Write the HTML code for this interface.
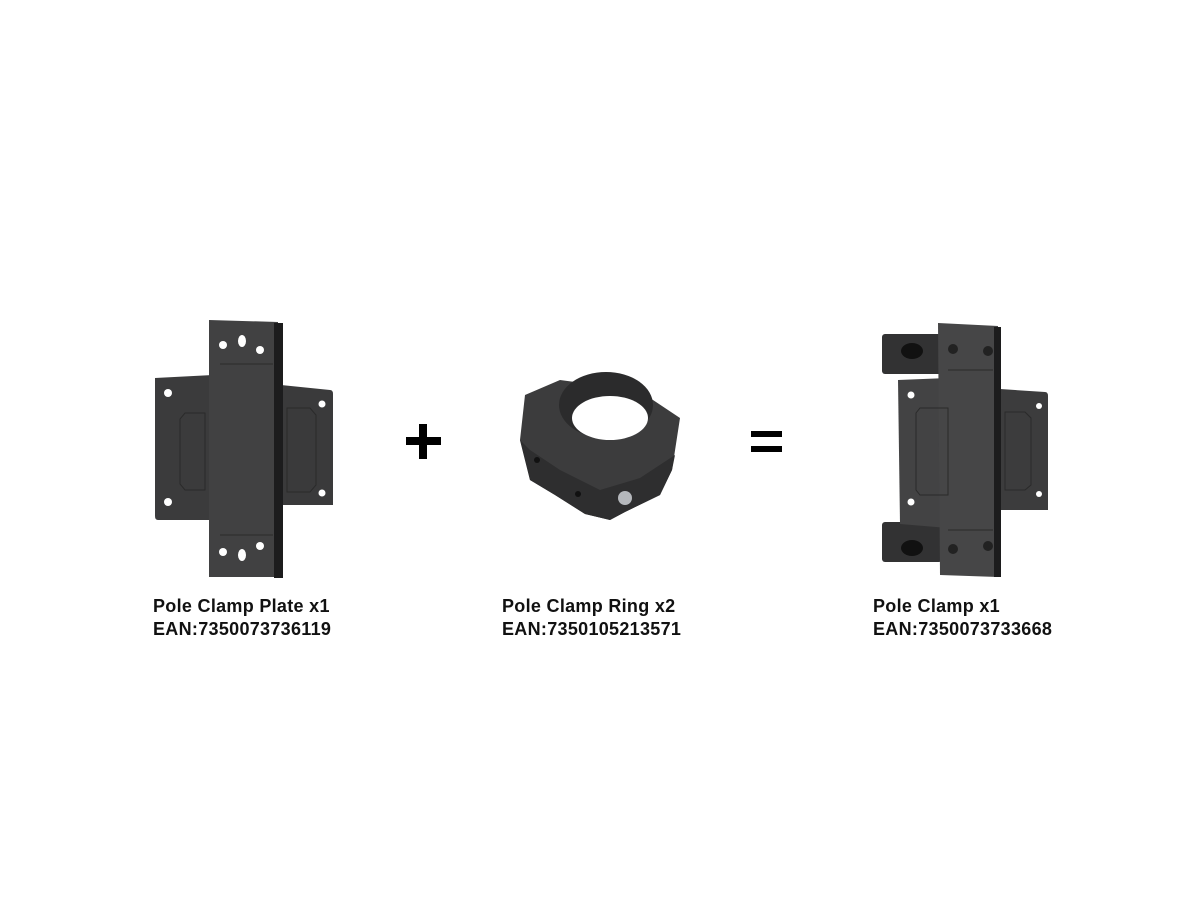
<!DOCTYPE html>
<html><head><style>
body{margin:0;background:#fff;width:1200px;height:900px;overflow:hidden;position:relative;font-family:"Liberation Sans",sans-serif}
.t{position:absolute;font-weight:bold;font-size:18px;letter-spacing:0.3px;line-height:23px;color:#111}
</style></head><body>
<svg width="1200" height="900" style="position:absolute;left:0;top:0">
<g>
<path d="M155,378 L213,375 L213,520 L158,520 Q155,520 155,516 Z" fill="#3b3b3c"/>
<path d="M281,385 L330,390 Q333,390 333,394 L333,505 L281,505 Z" fill="#3a3a3b"/>
<path d="M209,320 L278,322 L278,577 L209,577 Z" fill="#414142"/>
<rect x="274" y="323" width="9" height="255" fill="#1c1c1d"/>
<path d="M185,413 L205,413 L205,490 L185,490 L180,484 L180,419 Z" fill="none" stroke="#2a2a2a" stroke-width="1"/>
<path d="M287,408 L310,408 L316,415 L316,485 L310,492 L287,492 Z" fill="none" stroke="#2a2a2a" stroke-width="1"/>
<line x1="220" y1="364" x2="273" y2="364" stroke="#2a2a2a"/>
<line x1="220" y1="535" x2="273" y2="535" stroke="#2a2a2a"/>
<g fill="#fff">
<circle cx="223" cy="345" r="4"/><ellipse cx="242" cy="341" rx="4" ry="6"/><circle cx="260" cy="350" r="4"/>
<circle cx="223" cy="552" r="4"/><ellipse cx="242" cy="555" rx="4" ry="6"/><circle cx="260" cy="546" r="4"/>
<circle cx="168" cy="393" r="4"/><circle cx="168" cy="502" r="4"/>
<circle cx="322" cy="404" r="3.5"/><circle cx="322" cy="493" r="3.5"/>
</g>
</g>
<rect x="406" y="437" width="35" height="8" fill="#000"/>
<rect x="419" y="424" width="8" height="35" fill="#000"/>
<g>
<path d="M525,395 L560,380 L575,382 L620,378 L650,398 L680,418 L672,470 L660,495 L625,512 L610,520 L585,514 L555,495 L530,480 L520,440 Z" fill="#3c3c3d"/>
<path d="M520,440 L530,480 L555,495 L585,514 L610,520 L625,512 L660,495 L672,470 L675,455 L640,478 L600,490 L560,470 L530,450 Z" fill="#2e2e2f"/>
<ellipse cx="606" cy="405" rx="47" ry="33" fill="#2b2b2c"/>
<ellipse cx="610" cy="418" rx="38" ry="22" fill="#fff"/>
<circle cx="625" cy="498" r="7" fill="#b5b8bc"/>
<circle cx="537" cy="460" r="3" fill="#111"/><circle cx="578" cy="494" r="3" fill="#111"/>
</g>
<rect x="751" y="431" width="31" height="6" fill="#000"/>
<rect x="751" y="446" width="31" height="6" fill="#000"/>
<g>
<rect x="882" y="334" width="60" height="40" rx="3" fill="#323233"/>
<rect x="882" y="522" width="60" height="40" rx="3" fill="#323233"/>
<ellipse cx="912" cy="351" rx="11" ry="8" fill="#111"/>
<ellipse cx="912" cy="548" rx="11" ry="8" fill="#111"/>
<path d="M898,380 L948,378 L948,528 L900,524 Z" fill="#434344"/>
<path d="M1000,389 L1045,392 Q1048,392 1048,396 L1048,510 L1000,510 Z" fill="#3c3c3d"/>
<path d="M938,323 L998,326 L998,577 L940,575 Z" fill="#464647"/>
<rect x="994" y="327" width="7" height="250" fill="#1c1c1d"/>
<path d="M920,408 L948,408 L948,495 L920,495 L916,490 L916,413 Z" fill="none" stroke="#2a2a2a"/>
<path d="M1005,412 L1025,412 L1031,418 L1031,485 L1025,490 L1005,490 Z" fill="none" stroke="#2a2a2a"/>
<line x1="948" y1="370" x2="993" y2="370" stroke="#2a2a2a"/>
<line x1="948" y1="530" x2="993" y2="530" stroke="#2a2a2a"/>
<g fill="#222"><circle cx="953" cy="349" r="5"/><circle cx="988" cy="351" r="5"/><circle cx="953" cy="549" r="5"/><circle cx="988" cy="546" r="5"/></g>
<g fill="#fff"><circle cx="911" cy="395" r="3.5"/><circle cx="911" cy="502" r="3.5"/><circle cx="1039" cy="406" r="3"/><circle cx="1039" cy="494" r="3"/></g>
</g>
</svg>
<div class="t" style="left:153px;top:595px">Pole Clamp Plate x1<br>EAN:7350073736119</div>
<div class="t" style="left:502px;top:595px">Pole Clamp Ring x2<br>EAN:7350105213571</div>
<div class="t" style="left:873px;top:595px">Pole Clamp x1<br>EAN:7350073733668</div>
</body></html>
